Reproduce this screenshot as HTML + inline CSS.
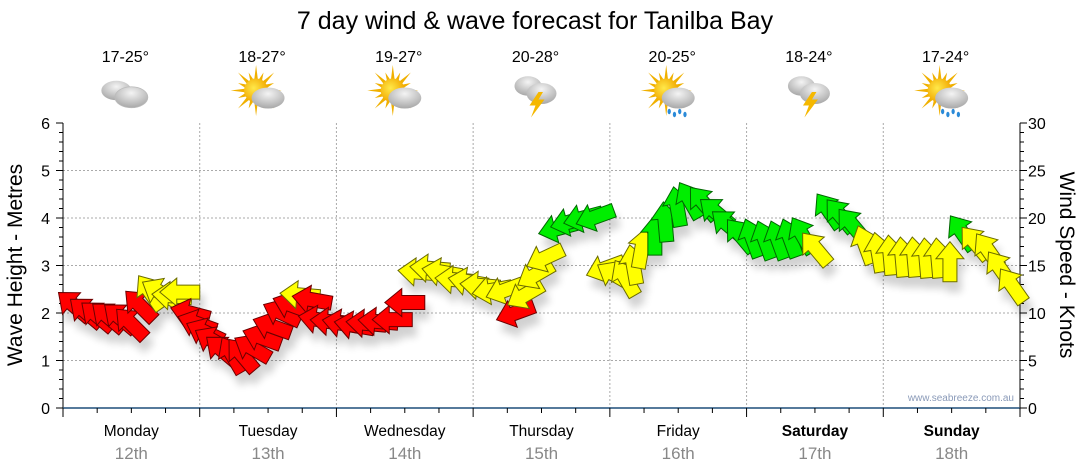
<!DOCTYPE html>
<html><head><meta charset="utf-8">
<style>
body{margin:0;background:#fff;width:1080px;height:475px;overflow:hidden;font-family:"Liberation Sans",sans-serif}
svg{display:block}
</style></head>
<body>
<svg id="chart" width="1080" height="475" viewBox="0 0 1080 475" xmlns="http://www.w3.org/2000/svg">
<defs>
<filter id="sh" x="-50%" y="-50%" width="200%" height="200%"><feGaussianBlur in="SourceAlpha" stdDeviation="4"/><feOffset dx="4" dy="10"/><feComponentTransfer><feFuncA type="linear" slope="0.18"/></feComponentTransfer><feMerge><feMergeNode/><feMergeNode in="SourceGraphic"/></feMerge></filter>
<radialGradient id="cloudg" cx="50%" cy="30%" r="70%"><stop offset="0" stop-color="#f4f4f4"/><stop offset="1" stop-color="#a8a8a8"/></radialGradient>
<radialGradient id="sung" cx="40%" cy="40%" r="60%"><stop offset="0" stop-color="#ffe94a"/><stop offset="1" stop-color="#f2a800"/></radialGradient>
</defs>
<text x="535" y="29" text-anchor="middle" font-size="25" fill="#000">7 day wind &amp; wave forecast for Tanilba Bay</text>
<g id="grid"></g>
<g id="axes"></g>
<g id="icons"></g>
<g id="arrows" filter="url(#sh)"></g>
<text transform="translate(22,265) rotate(-90)" text-anchor="middle" font-size="21">Wave Height - Metres</text>
<text transform="translate(1060,265) rotate(90)" text-anchor="middle" font-size="21">Wind Speed - Knots</text>
<text x="1014" y="401" text-anchor="end" font-size="10" fill="#8a9ab8">www.seabreeze.com.au</text>
</svg>
<script>
const days=["Monday","Tuesday","Wednesday","Thursday","Friday","Saturday","Sunday"];
const dates=["12th","13th","14th","15th","16th","17th","18th"];
const temps=["17-25°","18-27°","19-27°","20-28°","20-25°","18-24°","17-24°"];
const icons=["cloud","suncloud","suncloud","storm","sunrain","storm","sunrain"];
const waveTicks=[0,1,2,3,4,5,6];
const windTicks=[0,5,10,15,20,25,30];
const hours=[1.9,4,6,7.9,10,11.9,13.5,15.3,17,19.1,20.5,22.3,23.5,24.9,26.3,27.9,29.7,31.4,33.2,34.9,36.7,38.4,40.2,41.6,43.7,44.8,46.9,49,51.1,53.2,55.3,57.8,60,62.3,64.4,66.5,68.8,71.1,73.2,75.3,77.6,79.4,81.1,82.9,84.6,86.9,89,91.3,93.4,95.2,96.9,98.7,100.1,101.6,103.9,105.7,107.8,110,112.4,114.6,116.7,118.9,121,123.2,125.5,127.6,129.8,132.1,134.4,136.4,138.5,140.8,143.1,145.2,147.3,149.4,151.5,153.6,155.7,157.8,160.1,162.4,164.5,166.6];
const knots=[10.8,10.1,9.7,9.6,9.5,8.9,10.8,12.2,12.2,11.8,12.2,10.0,8.9,8.0,7.1,6.1,5.6,5.6,6.3,7.4,8.6,10.0,10.8,11.9,11.4,9.3,9.1,8.9,8.7,8.9,9.1,9.3,11.1,14.3,14.7,14.3,13.5,13.3,12.9,12.4,12.4,10.0,11.9,14.0,15.8,18.9,19.6,20,20.1,14.7,14.0,13.7,15.1,16.8,18.2,19.6,21.2,21.9,21.6,20.6,19.3,18.2,17.9,17.7,17.7,17.9,18.2,16.8,20.8,20.3,19.3,17.2,16.4,16.1,15.9,15.9,15.8,15.8,15.4,18.5,17.4,16.6,14.7,12.9];
const dirs=[140,140,140,140,140,135,135,125,150,175,180,165,160,155,150,140,120,130,150,160,160,155,160,175,170,170,175,170,170,175,175,180,180,175,175,170,175,170,175,190,200,200,210,210,205,195,195,195,200,200,150,120,100,80,90,95,100,120,130,140,140,130,110,110,110,110,120,130,125,130,130,110,100,95,95,95,95,95,90,125,130,125,125,125];

const L=63,R=1020,T=123,B=408;
const dayW=(R-L)/7;
const xH=h=>L+h*(R-L)/168;
const yW=m=>B-m*(B-T)/6;
const yK=k=>B-k*(B-T)/30;
const NS="http://www.w3.org/2000/svg";
function mk(tag,attrs,parent){const e=document.createElementNS(NS,tag);for(const k in attrs)e.setAttribute(k,attrs[k]);parent.appendChild(e);return e;}
const grid=document.getElementById('grid'),axes=document.getElementById('axes'),ic=document.getElementById('icons'),ar=document.getElementById('arrows');

waveTicks.forEach(m=>{
  if(m>0&&m<6){const g=mk('line',{x1:L,x2:R,y1:yW(m),y2:yW(m),stroke:'#aaa','stroke-dasharray':'2,2'},grid);
  
  }
  const t=mk('text',{x:50,y:yW(m)+6,'text-anchor':'end','font-size':16},axes);t.textContent=m;
  
  
});
for(let i=0;i<=30;i++){const y=B-i*(B-T)/30;mk('line',{x1:L-(i%5?4:7),x2:L,y1:y,y2:y,stroke:'#000'},axes);mk('line',{x1:R,x2:R+(i%5?4:7),y1:y,y2:y,stroke:'#000'},axes);}
windTicks.forEach(k=>{const t=mk('text',{x:1028,y:yK(k)+6,'font-size':16},axes);t.textContent=k;
  
  });
for(let d=1;d<7;d++){const g=mk('line',{x1:L+d*dayW,x2:L+d*dayW,y1:T,y2:B,stroke:'#aaa','stroke-dasharray':'2,2'},grid);
  
  }
mk('line',{x1:L,x2:L,y1:T,y2:B,stroke:'#000'},axes);
mk('line',{x1:R,x2:R,y1:T,y2:B,stroke:'#000'},axes);
mk('line',{x1:L,x2:R,y1:B,y2:B,stroke:'#1f4f7a','stroke-width':1.5},axes);
for(let i=0;i<=28;i++){const x=L+i*dayW/4;mk('line',{x1:x,x2:x,y1:B,y2:B+(i%4?5:9),stroke:'#000'},axes);}
days.forEach((d,i)=>{
  const cx=L+(i+0.5)*dayW;
  const t=mk('text',{x:cx,y:436,'text-anchor':'middle','font-size':15.5,'font-weight':i>=5?'bold':'normal'},axes);t.textContent=d;
  
  
  const t2=mk('text',{x:cx,y:459,'text-anchor':'middle','font-size':17,fill:'#888'},axes);t2.textContent=dates[i];
  
  
  const t3=mk('text',{x:cx-6,y:62,'text-anchor':'middle','font-size':16},ic);t3.textContent=temps[i];
  
  
  const g=mk('g',{transform:`translate(${cx-6},95) scale(1.5)`},ic);
  
  
  const type=icons[i];
  if(type.startsWith('sun')){
    for(let a=0;a<16;a++){const an=a*Math.PI/8;const r=a%2?13:17;mk('polygon',{points:`${-4+Math.cos(an-0.18)*7},${-3+Math.sin(an-0.18)*7} ${-4+Math.cos(an)*r},${-3+Math.sin(an)*r} ${-4+Math.cos(an+0.18)*7},${-3+Math.sin(an+0.18)*7}`,fill:'#f0b000'},g);}
    mk('circle',{cx:-4,cy:-3,r:8,fill:'url(#sung)'},g);
  }
  if(type==='cloud'){
    mk('ellipse',{cx:-6,cy:-3,rx:10,ry:6.5,fill:'url(#cloudg)'},g);
    mk('ellipse',{cx:4,cy:1.5,rx:11,ry:7,fill:'url(#cloudg)',stroke:'#bbb','stroke-width':0.5},g);
  } else if(type==='storm'){
    mk('ellipse',{cx:-5,cy:-6,rx:9,ry:6.5,fill:'url(#cloudg)'},g);
    mk('ellipse',{cx:4,cy:-1,rx:10,ry:7,fill:'url(#cloudg)'},g);
    mk('polygon',{points:'2,-2 -4,7 0,7 -3,15 6,3 2,3 5,-2',fill:'#f5b800'},g);
  } else {
    mk('ellipse',{cx:4,cy:2,rx:11,ry:7,fill:'url(#cloudg)'},g);
    if(type==='sunrain'){for(let j=0;j<4;j++){mk('ellipse',{cx:-2+j*3.5,cy:11+(j%2)*2,rx:1.1,ry:1.8,fill:'#2a8ad8'},g);}}
  }
});

const shape="M0,0 L-17,-14 L-17,-7 L-40,-7 L-40,7 L-17,7 L-17,14 Z";
hours.forEach((h,i)=>{
  const k=knots[i];
  const col=k<11.5?['#ff0000','#6a0000']:(k<17.5?['#ffff00','#6a6a00']:['#00ee00','#006600']);
  const x=xH(h),y=yK(k);
  const p=mk('path',{d:shape,fill:col[0],stroke:col[1],'stroke-width':1,
    transform:`translate(${x},${y}) rotate(${-dirs[i]}) translate(20,0)`},ar);
  
  
});
</script>
</body></html>
